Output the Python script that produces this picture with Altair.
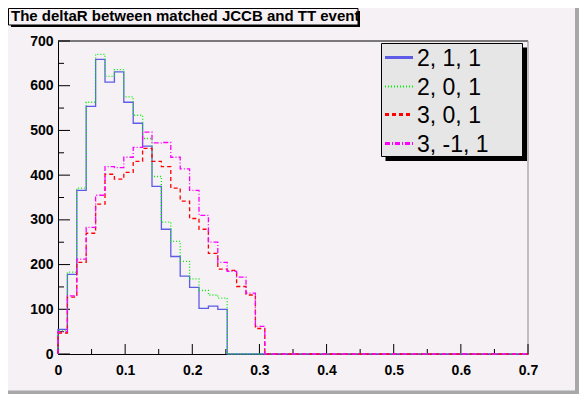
import altair as alt
import pandas as pd

# ---------------- data ----------------
title_text = "The deltaR between matched JCCB and TT event"
bin_width = 0.014
n_bins = 50

series_labels = ["2, 1, 1", "2, 0, 1", "3, 0, 1", "3, -1, 1"]
series_colors = ["#5c5ce6", "#00ee00", "#ff0000", "#ff00ff"]
series_dash = [[1, 0], [1, 2], [4, 3], [5, 2, 1, 2]]
series_width = [1.3, 1.3, 1.3, 1.3]
legend_width = [3, 2, 3, 3]

counts_211 = [55, 178, 366, 554, 659, 608, 631, 563, 516, 465,
              375, 279, 218, 174, 149, 102, 107, 100, 0, 0,
              0, 0, 0, 0, 0, 0, 0, 0, 0, 0,
              0, 0, 0, 0, 0, 0, 0, 0, 0, 0,
              0, 0, 0, 0, 0, 0, 0, 0, 0, 0]
counts_201 = [52, 183, 371, 563, 670, 621, 636, 575, 534, 482,
              397, 295, 252, 207, 168, 142, 132, 125, 0, 0,
              0, 0, 0, 0, 0, 0, 0, 0, 0, 0,
              0, 0, 0, 0, 0, 0, 0, 0, 0, 0,
              0, 0, 0, 0, 0, 0, 0, 0, 0, 0]
counts_301 = [47, 127, 205, 270, 335, 402, 391, 406, 431, 460,
              431, 419, 371, 342, 303, 279, 225, 190, 187, 151,
              132, 57, 0, 0, 0, 0, 0, 0, 0, 0,
              0, 0, 0, 0, 0, 0, 0, 0, 0, 0,
              0, 0, 0, 0, 0, 0, 0, 0, 0, 0]
counts_3m11 = [50, 130, 212, 283, 355, 419, 417, 440, 462, 496,
               472, 473, 440, 414, 366, 310, 250, 205, 185, 172,
               136, 62, 0, 0, 0, 0, 0, 0, 0, 0,
               0, 0, 0, 0, 0, 0, 0, 0, 0, 0,
               0, 0, 0, 0, 0, 0, 0, 0, 0, 0]
all_counts = [counts_211, counts_201, counts_301, counts_3m11]

x_major = [0, 0.1, 0.2, 0.3, 0.4, 0.5, 0.6, 0.7]
x_minor = [0.05, 0.15, 0.25, 0.35, 0.45, 0.55, 0.65]
y_major = [0, 100, 200, 300, 400, 500, 600, 700]
y_minor = [50, 150, 250, 350, 450, 550, 650]

# ---------------- style ----------------
W, H = 470, 313
BG = "#f5f1f4"
FONT = "Liberation Sans"

xscale = alt.Scale(domain=[0, 0.7], nice=False, zero=False)
yscale = alt.Scale(domain=[0, 700], nice=False, zero=False)

xaxis = alt.Axis(values=x_major, format="~g", ticks=False, tickSize=0, grid=False,
                 domainColor="black", domainWidth=1, labelColor="black",
                 labelFont=FONT, labelFontSize=14, labelFontWeight="bold",
                 labelPadding=9, title=None, labelFlush=False, labelOverlap=False)
yaxis = alt.Axis(values=y_major, format="d", ticks=False, tickSize=0, grid=False,
                 domainColor="black", domainWidth=1, labelColor="black",
                 labelFont=FONT, labelFontSize=14, labelFontWeight="bold",
                 labelPadding=5, title=None, labelFlush=False, labelOverlap=False)


def X(field="x"):
    return alt.X(f"{field}:Q", scale=xscale, axis=xaxis)


def Y(field="y"):
    return alt.Y(f"{field}:Q", scale=yscale, axis=yaxis)


def deco():
    return alt.Chart(pd.DataFrame({"d": [0]}))


layers = []

# frame top and right
layers.append(deco().mark_rule(color="black", strokeWidth=1).encode(
    x=alt.value(0), x2=alt.value(W), y=alt.value(0)))
layers.append(deco().mark_rule(color="#8a8a8a", strokeWidth=1).encode(
    x=alt.value(W), y=alt.value(0), y2=alt.value(H)))

# inward ticks
layers.append(alt.Chart(pd.DataFrame({"x": x_major})).mark_rule(color="black").encode(
    x=X(), y=alt.value(H), y2=alt.value(H - 10)))
layers.append(alt.Chart(pd.DataFrame({"x": x_minor})).mark_rule(color="black").encode(
    x=X(), y=alt.value(H), y2=alt.value(H - 5)))
layers.append(alt.Chart(pd.DataFrame({"y": y_major})).mark_rule(color="black").encode(
    y=Y(), x=alt.value(0), x2=alt.value(12)))
layers.append(alt.Chart(pd.DataFrame({"y": y_minor})).mark_rule(color="black").encode(
    y=Y(), x=alt.value(0), x2=alt.value(6)))

# histograms as step lines
for s in range(4):
    vals = all_counts[s]
    xs = [0.0] + [i * bin_width for i in range(n_bins)] + [n_bins * bin_width]
    ys = [0] + list(vals) + [vals[-1]]
    df = pd.DataFrame({"x": xs, "y": ys, "k": list(range(len(xs)))})
    layers.append(
        alt.Chart(df).mark_line(
            interpolate="step-after", color=series_colors[s],
            strokeDash=series_dash[s], strokeWidth=series_width[s],
        ).encode(x=X(), y=Y(), order="k:Q")
    )

# legend box
layers.append(deco().mark_rect(fill="black").encode(
    x=alt.value(327.5), x2=alt.value(469), y=alt.value(6.5), y2=alt.value(120)))
layers.append(deco().mark_rect(fill="#e6e6e6", stroke="black", strokeWidth=1).encode(
    x=alt.value(323.5), x2=alt.value(464.5), y=alt.value(2.5), y2=alt.value(115.5)))
legend_y = [16.5, 45.5, 73.5, 102.5]
for s in range(4):
    layers.append(deco().mark_rule(color=series_colors[s], strokeDash=series_dash[s],
                                   strokeWidth=legend_width[s]).encode(
        x=alt.value(327), x2=alt.value(355), y=alt.value(legend_y[s])))
    layers.append(deco().mark_text(text=series_labels[s], align="left", baseline="middle",
                                   font=FONT, fontSize=23, color="black").encode(
        x=alt.value(359), y=alt.value(legend_y[s] + 1)))

# title box
layers.append(deco().mark_rect(fill="black").encode(
    x=alt.value(-47), x2=alt.value(302), y=alt.value(-30), y2=alt.value(-14)))
layers.append(deco().mark_rect(fill=BG, stroke="black", strokeWidth=1).encode(
    x=alt.value(-49.5), x2=alt.value(300), y=alt.value(-32.5), y2=alt.value(-16)))
layers.append(deco().mark_text(text=title_text, align="left", baseline="alphabetic",
                               font=FONT, fontSize=15, fontWeight="bold", color="black",
                               limit=360, ellipsis="\u200b").encode(
    x=alt.value(-47), y=alt.value(-20)))

# canvas bevel (right and bottom)
layers.append(deco().mark_rect(fill="#a8a8a8").encode(
    x=alt.value(517), x2=alt.value(521), y=alt.value(-33), y2=alt.value(353)))
layers.append(deco().mark_rect(fill="#a8a8a8").encode(
    x=alt.value(-50), x2=alt.value(521), y=alt.value(349.5), y2=alt.value(353)))

chart = alt.layer(*layers).properties(
    width=W, height=H,
    autosize=alt.AutoSizeParams(type="none"),
    padding={"left": 50, "top": 33, "right": 51, "bottom": 40},
    background=BG,
).configure_view(stroke=None)

chart.save("out.html", embed_options={"renderer": "svg", "actions": False})
